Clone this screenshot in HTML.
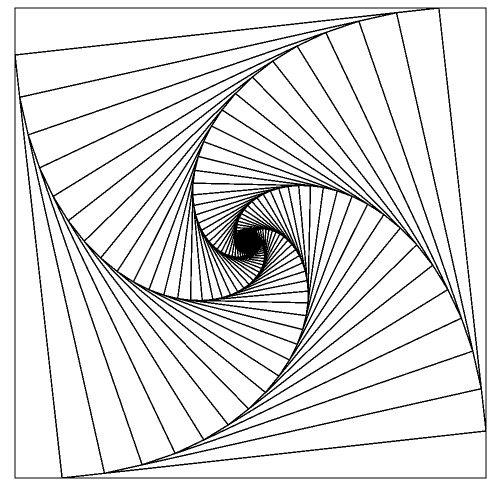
<!DOCTYPE html>
<html><head><meta charset="utf-8"><style>
html,body{margin:0;padding:0;background:#fff;}
svg{display:block;}
</style></head><body>
<svg id="chart" width="492" height="490" viewBox="0 0 492 490" xmlns="http://www.w3.org/2000/svg">
<g id="squares" fill="none" stroke="#000" stroke-width="1.4" shape-rendering="crispEdges"></g>
<circle cx="247" cy="241" r="13" fill="#000"/>
</svg>
<script>
const outerCorners = [[15,8],[486,8],[486,478],[15,478]];
const fractions = [0.1];
const squareCount = [160];

const g = document.getElementById('squares');
let P = outerCorners.map(p => p.slice());
for (let k = 0; k < squareCount[0]; k++) {
  const poly = document.createElementNS('http://www.w3.org/2000/svg', 'polygon');
  poly.setAttribute('points', P.map(p => p[0].toFixed(2) + ',' + p[1].toFixed(2)).join(' '));
  
  
  g.appendChild(poly);
  const t = fractions[0];
  const N = [];
  for (let i = 0; i < 4; i++) {
    const a = P[i], b = P[(i + 1) % 4];
    N.push([b[0] + t * (a[0] - b[0]), b[1] + t * (a[1] - b[1])]);
  }
  P = N;
}
</script>
</body></html>
